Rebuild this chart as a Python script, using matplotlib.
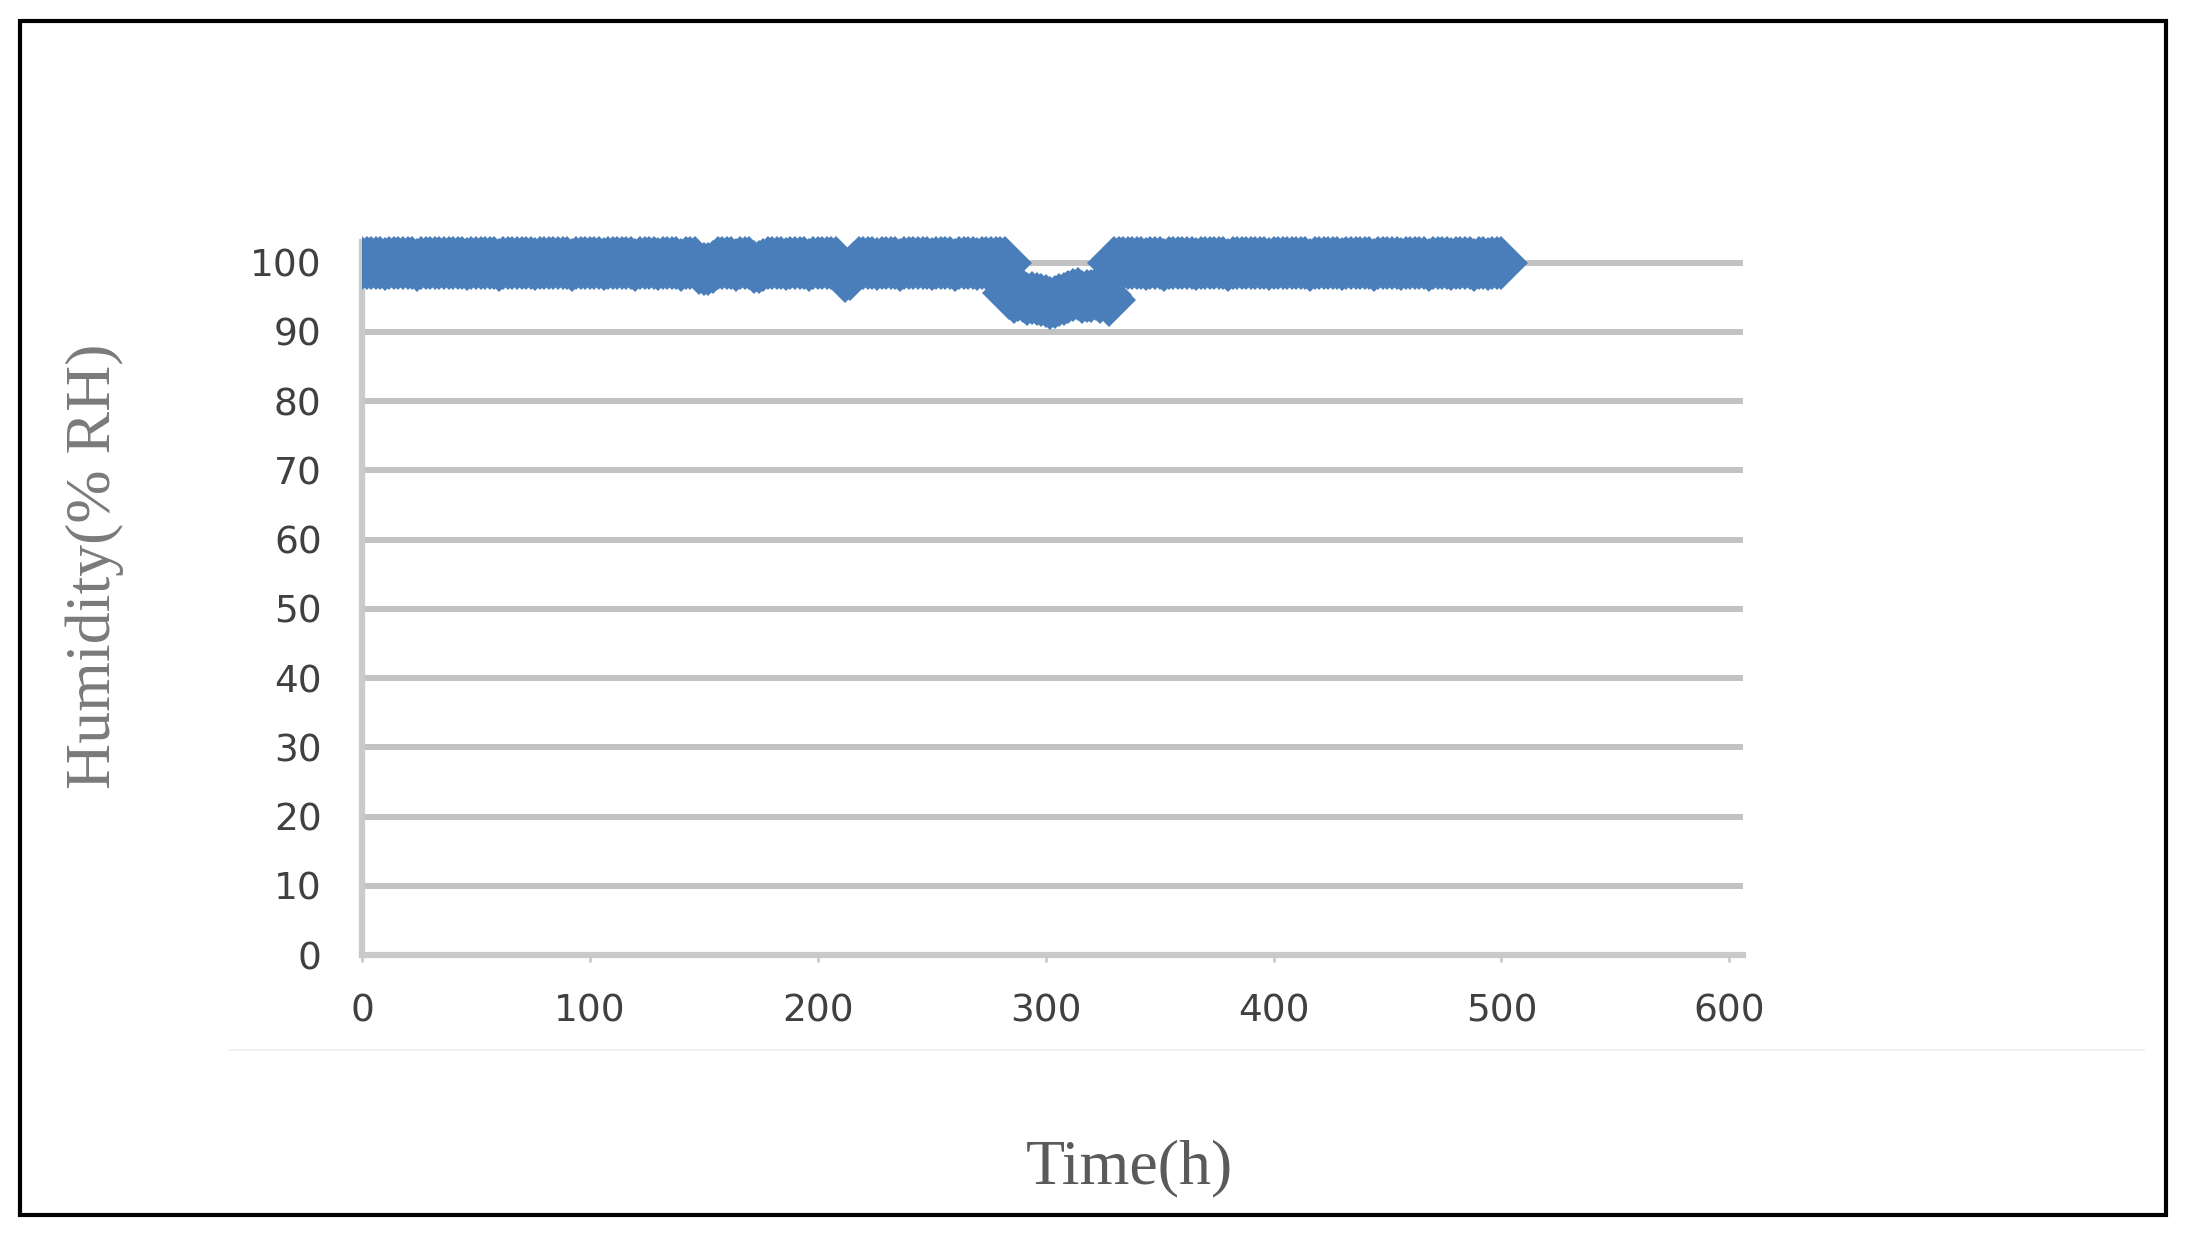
#!/usr/bin/env python

import numpy as np
import matplotlib.pyplot as plt
from matplotlib.patches import Rectangle
from matplotlib.lines import Line2D

# sensor log: one reading every 2 h, 0 h .. 500 h (ten readings per row)
sample_step_h = 2
humidity = [100, 100, 100, 100, 100, 99.8, 100, 100, 100, 100,
            100, 100, 99.7, 100, 100, 100, 100, 100, 100, 100,
            100, 100, 100, 99.8, 100, 100, 100, 100, 100, 100,
            99.7, 100, 100, 100, 100, 100, 100, 100, 99.8, 100,
            100, 100, 100, 100, 100, 100, 99.7, 100, 100, 100,
            100, 100, 100, 99.8, 100, 100, 100, 100, 100, 100,
            99.7, 100, 100, 100, 100, 99.8, 100, 100, 100, 100,
            99.7, 100, 100, 100, 99.2, 99.1, 99.1, 99.4, 100, 100,
            100, 100, 99.7, 100, 100, 100, 99.4, 99.4, 99.6, 100,
            100, 100, 100, 99.8, 100, 100, 100, 100, 99.7, 100,
            100, 100, 100, 100, 100, 98.8, 98.0, 98.3, 99.2, 100,
            100, 100, 100, 99.8, 100, 100, 100, 100, 99.7, 100,
            100, 100, 100, 100, 100, 99.8, 100, 100, 100, 100,
            99.7, 100, 100, 100, 100, 99.8, 100, 100, 100, 100,
            100, 100, 95.6, 95.0, 95.3, 95.2, 94.8, 94.9, 94.7, 94.6,
            94.4, 94.2, 94.3, 94.6, 94.8, 95.0, 95.3, 95.4, 95.1, 95.2,
            95.2, 95.4, 95.1, 95.3, 94.6, 100, 100, 100, 100, 100,
            100, 100, 99.8, 100, 100, 100, 99.7, 100, 100, 100,
            100, 100, 100, 99.8, 100, 100, 100, 100, 100, 100,
            99.7, 100, 100, 100, 100, 100, 100, 100, 100, 99.8,
            100, 100, 100, 100, 100, 100, 100, 100, 99.7, 100,
            100, 100, 100, 100, 100, 99.8, 100, 100, 100, 100,
            100, 100, 99.7, 100, 100, 100, 100, 100, 99.8, 100,
            100, 100, 100, 100, 99.7, 100, 100, 100, 100, 99.8,
            100, 100, 100, 100, 99.7, 100, 100, 99.8, 100, 100,
            100]
hours = np.arange(len(humidity)) * sample_step_h

x_ticks = [0, 100, 200, 300, 400, 500, 600]
y_ticks = [0, 10, 20, 30, 40, 50, 60, 70, 80, 90, 100]

W, H = 2190, 1243
fig = plt.figure(figsize=(W / 100, H / 100), dpi=100)
ax = fig.add_axes([362 / W, 1 - 955 / H, 1381 / W, (955 - 228) / H])

# gridlines
for yv in y_ticks[1:]:
    ax.axhline(yv, color='#c2c2c2', lw=4.3, zorder=1)

ax.plot(hours, humidity, linestyle='none', marker='D', ms=28,
        color='#4a7ebb', mec='#4a7ebb', mew=0, zorder=5)

ax.set_xlim(0, 606)
ax.set_ylim(0, 105)
ax.set_xticks(x_ticks)
ax.set_yticks(y_ticks)

for s in ['top', 'right']:
    ax.spines[s].set_visible(False)
for s in ['left', 'bottom']:
    ax.spines[s].set_color('#cacaca')
    ax.spines[s].set_linewidth(4.5)
ax.spines['left'].set_bounds(0, 103)

ax.tick_params(axis='y', length=0, pad=29, labelsize=27, labelcolor='#404040')
ax.tick_params(axis='x', length=5, width=2, color='#cacaca', pad=23,
               labelsize=27, labelcolor='#404040')

fig.text(95 / W, 1 - 566 / H, 'Humidity(% RH)', rotation=90, ha='center', va='center',
         family='Liberation Serif', fontsize=46, color='#7a7a7a')
fig.text(1129 / W, 1 - 1168 / H, 'Time(h)', ha='center', va='center',
         family='Liberation Serif', fontsize=46, color='#5a5a5a')

# faint separator and outer frame
fig.add_artist(Line2D([230 / W, 2144 / W], [1 - 1050 / H, 1 - 1050 / H],
                      color='#f2f2f2', lw=1.5))
fig.add_artist(Rectangle((20 / W, 1 - 1215 / H), 2146 / W, 1194 / H,
                         fill=False, ec='black', lw=3))

plt.savefig('out.png', dpi=100)
plt.close()
